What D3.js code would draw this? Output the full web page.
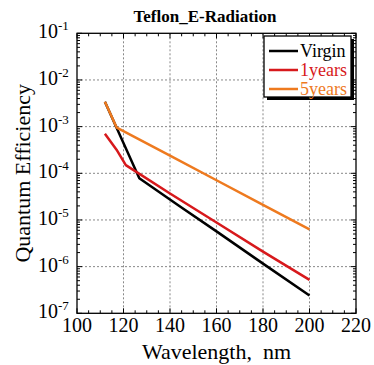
<!DOCTYPE html>
<html><head><meta charset="utf-8">
<script src="https://cdn.jsdelivr.net/npm/d3@7"></script>
</head><body style="margin:0">
<script>
const seriesNames = ["Virgin", "1years", "5years"];
const seriesColors = ["#000000", "#d7191c", "#ee7a1f"];
const virginX = [112, 126.8, 144, 160, 180, 200];
const virginY = [3.4e-3, 7.8e-5, 2.0e-5, 5.7e-6, 1.16e-6, 2.4e-7];
const year1X = [112, 117, 121, 124, 140, 160, 180, 200];
const year1Y = [7.0e-4, 3.2e-4, 1.5e-4, 1.2e-4, 3.7e-5, 8.8e-6, 2.1e-6, 5.2e-7];
const year5X = [112, 117.1, 140, 160, 180, 200];
const year5Y = [3.4e-3, 9.5e-4, 2.4e-4, 7.1e-5, 2.1e-5, 6.3e-6];
const xTicks = [100, 120, 140, 160, 180, 200, 220];
const yTickExps = [-7, -6, -5, -4, -3, -2, -1];

const W = 374, H = 365;
const m = {l: 77, r: 18, t: 33.3, b: 51.7};
const FONT = "Liberation Serif";
const svg = d3.select("body").append("svg").attr("width", W).attr("height", H).style("display", "block");
const x = d3.scaleLinear().domain([100, 220]).range([m.l, W - m.r]);
const y = d3.scaleLog().domain([1e-7, 1e-1]).range([H - m.b, m.t]);

function txt(sel) {
  return sel.append("text").attr("font-family", FONT).style("font-family", FONT);
}

// grid
const g = svg.append("g");
g.selectAll(".gx").data(xTicks.slice(1, -1)).enter().append("line")
  .attr("x1", d => x(d)).attr("x2", d => x(d)).attr("y1", m.t).attr("y2", H - m.b)
  .attr("stroke", "#888").attr("stroke-width", 1).attr("stroke-dasharray", "2,2");
g.selectAll(".gy").data(yTickExps.slice(1, -1)).enter().append("line")
  .attr("y1", d => y(Math.pow(10, d))).attr("y2", d => y(Math.pow(10, d))).attr("x1", m.l).attr("x2", W - m.r)
  .attr("stroke", "#888").attr("stroke-width", 1).attr("stroke-dasharray", "2,2");

// ticks (inward) on all four sides
const minorX = d3.range(105, 220, 5).filter(v => v % 20 !== 0);
const majorY = yTickExps.map(e => Math.pow(10, e));
const minorY = [];
for (let e = -7; e < -1; e++) for (let k = 2; k <= 9; k++) minorY.push(k * Math.pow(10, e));
function tickLines(data, len, isX) {
  data.forEach(v => {
    if (isX) {
      const px = x(v);
      g.append("line").attr("x1", px).attr("x2", px).attr("y1", H - m.b).attr("y2", H - m.b - len).attr("stroke", "#000");
      g.append("line").attr("x1", px).attr("x2", px).attr("y1", m.t).attr("y2", m.t + len).attr("stroke", "#000");
    } else {
      const py = y(v);
      g.append("line").attr("y1", py).attr("y2", py).attr("x1", m.l).attr("x2", m.l + len).attr("stroke", "#000");
      g.append("line").attr("y1", py).attr("y2", py).attr("x1", W - m.r).attr("x2", W - m.r - len).attr("stroke", "#000");
    }
  });
}
tickLines(xTicks, 5, true);
tickLines(minorX, 3, true);
tickLines(majorY, 5, false);
tickLines(minorY, 3, false);

// frame
svg.append("rect").attr("x", m.l).attr("y", m.t).attr("width", W - m.r - m.l).attr("height", H - m.b - m.t)
  .attr("fill", "none").attr("stroke", "#000").attr("stroke-width", 1.3);

// lines
const line = d3.line().x(d => x(d[0])).y(d => y(d[1]));
const data = [
  d3.zip(virginX, virginY),
  d3.zip(year1X, year1Y),
  d3.zip(year5X, year5Y)
];
[0, 1, 2].forEach(i => {
  svg.append("path").datum(data[i]).attr("d", line).attr("fill", "none")
    .attr("stroke", seriesColors[i]).attr("stroke-width", 2.5).attr("stroke-linejoin", "round");
});

// x tick labels
xTicks.forEach(d => {
  txt(svg).attr("x", x(d)).attr("y", H - m.b + 19).attr("text-anchor", "middle")
    .attr("font-size", 20).text(d);
});

// y tick labels
yTickExps.forEach(e => {
  txt(svg).attr("x", 58).attr("y", y(Math.pow(10, e)) + 5)
    .attr("text-anchor", "end").attr("font-size", 20).text("10");
  txt(svg).attr("x", 58).attr("y", y(Math.pow(10, e)) - 3)
    .attr("font-size", 13).text("-" + Math.abs(e));
});

// titles
txt(svg).attr("x", 205).attr("y", 22).attr("text-anchor", "middle")
  .attr("font-weight", "bold").attr("font-size", 17).text("Teflon_E-Radiation");
txt(svg).attr("x", (m.l + W - m.r) / 2).attr("y", 359).attr("text-anchor", "middle")
  .attr("font-size", 22).style("white-space", "pre").text("Wavelength,  nm");
txt(svg).attr("transform", `translate(30,${(m.t + H - m.b) / 2}) rotate(-90)`).attr("text-anchor", "middle")
  .attr("font-size", 22).text("Quantum Efficiency");

// legend
const lg = svg.append("g");
lg.append("rect").attr("x", 267).attr("y", 39).attr("width", 87).attr("height", 61).attr("fill", "#000");
lg.append("rect").attr("x", 264).attr("y", 36).attr("width", 87).attr("height", 61).attr("fill", "#fff").attr("stroke", "#000").attr("stroke-width", 1.3);
seriesNames.forEach((n, i) => {
  const yy = 51 + i * 19;
  lg.append("line").attr("x1", 269).attr("x2", 298).attr("y1", yy).attr("y2", yy)
    .attr("stroke", seriesColors[i]).attr("stroke-width", 2.5);
  txt(lg).attr("x", 300).attr("y", yy + 6).attr("font-size", 18)
    .attr("fill", seriesColors[i]).text(n);
});
</script>
</body></html>
